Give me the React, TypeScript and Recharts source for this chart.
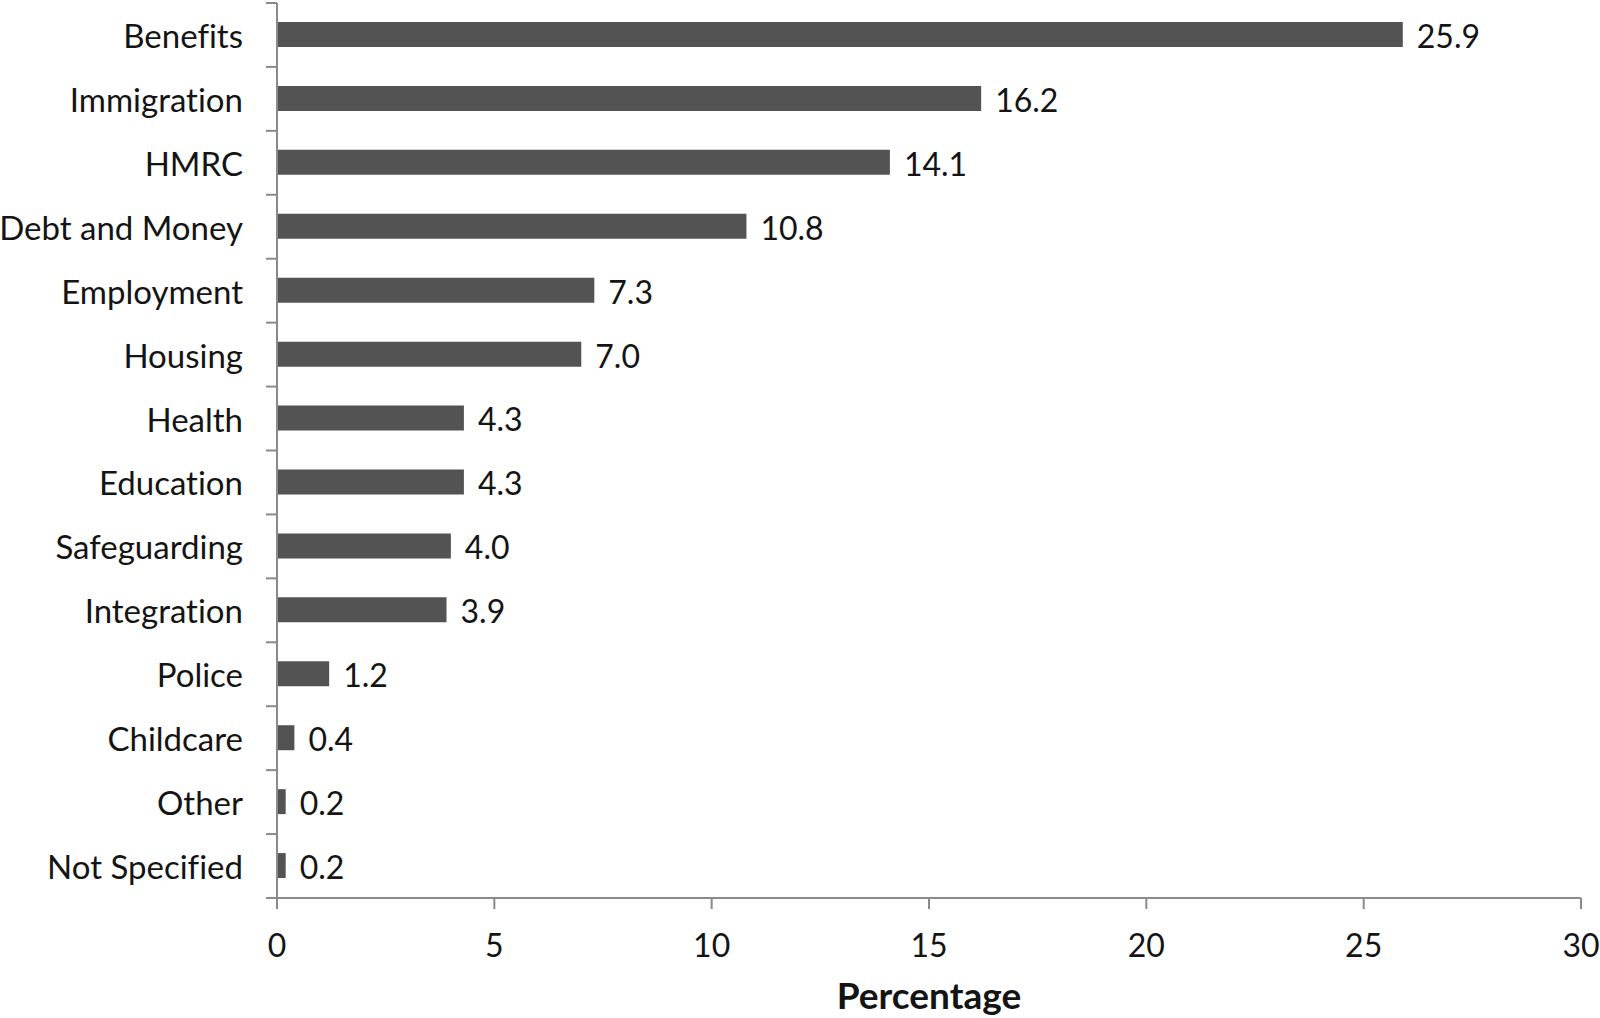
import React from "react";
import { BarChart, Bar, XAxis, YAxis, LabelList, Label } from "recharts";

const categories = [
  "Benefits",
  "Immigration",
  "HMRC",
  "Debt and Money",
  "Employment",
  "Housing",
  "Health",
  "Education",
  "Safeguarding",
  "Integration",
  "Police",
  "Childcare",
  "Other",
  "Not Specified",
];
const percentages = [25.9, 16.2, 14.1, 10.8, 7.3, 7.0, 4.3, 4.3, 4.0, 3.9, 1.2, 0.4, 0.2, 0.2];
const xTicks = [0, 5, 10, 15, 20, 25, 30];
const xAxisTitle = "Percentage";

const data = categories.map((c, i) => ({ category: c, value: percentages[i] }));

const FONT = "Lato, 'Open Sans', sans-serif";
const AXIS_COLOR = "#8a8a8a";
const TEXT_COLOR = "#141414";
const BAR_COLOR = "#535353";
const NO_LIGA: React.CSSProperties = { fontVariantLigatures: "none", fontFeatureSettings: '"liga" 0, "clig" 0' };

const YTick = (props: any) => {
  const { x, y, payload, index } = props;
  const half = payload && typeof payload.offset === "number" ? payload.offset : 0;
  const last = index === categories.length - 1;
  return (
    <g>
      <line x1={x} x2={x - 11} y1={y - half} y2={y - half} stroke={AXIS_COLOR} strokeWidth={2} />
      {last && (
        <line x1={x} x2={x - 11} y1={y + half} y2={y + half} stroke={AXIS_COLOR} strokeWidth={2} />
      )}
      <text
        x={x - 34}
        y={y}
        textAnchor="end"
        dominantBaseline="central"
        fontFamily={FONT}
        fontSize={33}
        fill={TEXT_COLOR}
        style={NO_LIGA}
      >
        {payload.value}
      </text>
    </g>
  );
};

const XTick = (props: any) => {
  const { x, y, payload } = props;
  return (
    <text
      x={x}
      y={y + 35}
      textAnchor="middle"
      dominantBaseline="central"
      fontFamily={FONT}
      fontSize={32}
      fill={TEXT_COLOR}
    >
      {payload.value}
    </text>
  );
};

export default function App() {
  return (
    <div style={{ position: "fixed", left: 0, top: 0, width: 1600, height: 1018, background: "#fff" }}>
      <BarChart
        width={1600}
        height={1018}
        data={data}
        layout="vertical"
        margin={{ top: 3, right: 19, bottom: 0, left: 0 }}
      >
        <XAxis
          type="number"
          domain={[0, 30]}
          ticks={xTicks}
          interval={0}
          height={120}
          tickSize={11}
          tickMargin={0}
          axisLine={{ stroke: AXIS_COLOR, strokeWidth: 2 }}
          tickLine={{ stroke: AXIS_COLOR, strokeWidth: 2 }}
          tick={<XTick />}
        >
          <Label
            value={xAxisTitle}
            position="insideBottom"
            offset={9}
            style={{ fontFamily: FONT, fontWeight: 700, fontSize: 37, fill: TEXT_COLOR }}
          />
        </XAxis>
        <YAxis
          type="category"
          dataKey="category"
          width={277}
          interval={0}
          tickSize={0}
          tickMargin={0}
          axisLine={{ stroke: AXIS_COLOR, strokeWidth: 2 }}
          tickLine={false}
          tick={<YTick />}
        />
        <Bar dataKey="value" fill={BAR_COLOR} barSize={25} isAnimationActive={false}>
          <LabelList
            dataKey="value"
            position="right"
            offset={14}
            dy={2}
            formatter={(v: any) => Number(v).toFixed(1)}
            style={{ fontFamily: FONT, fontSize: 32, fill: TEXT_COLOR }}
          />
        </Bar>
      </BarChart>
    </div>
  );
}
